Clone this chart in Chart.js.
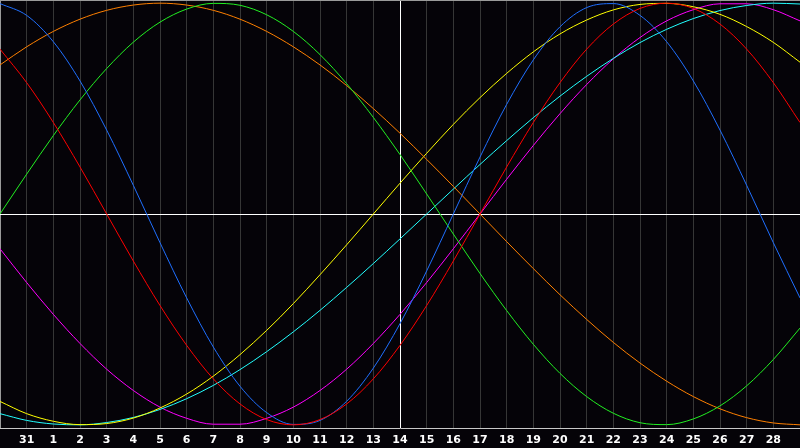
<!DOCTYPE html>
<html>
<head>
<meta charset="utf-8">
<script src="https://cdn.jsdelivr.net/npm/chart.js@4/dist/chart.umd.min.js"></script>
<style>
  html, body { margin: 0; padding: 0; background: #050308; }
  #wrap { width: 800px; height: 448px; position: relative; }
</style>
</head>
<body>
<div id="wrap"><canvas id="bioChart"></canvas></div>
<script>
// Day labels under each grid line (first and last line have none)
const dayLabels = ['', '31', '1', '2', '3', '4', '5', '6', '7', '8', '9', '10', '11', '12', '13',
    '14', '15', '16', '17', '18', '19', '20', '21', '22', '23', '24', '25', '26', '27', '28', ''];

// Series values in percent, one per grid line
const redValues = [78.2, 62.3, 43.4, 22.3, 0, -22.3, -43.4, -62.3, -78.2, -90.1, -97.5, -100, -97.5, -90.1, -78.2, -62.3,
    -43.4, -22.3, 0, 22.3, 43.4, 62.3, 78.2, 90.1, 97.5, 100, 97.5, 90.1, 78.2, 62.3, 43.4];
const blueValues = [99.8, 94.2, 81.7, 63.1, 39.8, 13.6, -13.6, -39.8, -63.1, -81.7, -94.2, -99.8, -97.9, -88.8, -73.1, -52.0,
    -27.0, 0, 27.0, 52.0, 73.1, 88.8, 97.9, 99.8, 94.2, 81.7, 63.1, 39.8, 13.6, -13.6, -39.8];
const greenValues = [0, 18.9, 37.2, 54.1, 69.0, 81.5, 91.0, 97.2, 99.9, 99.0, 94.5, 86.6, 75.6, 61.8, 45.8, 28.2,
    9.5, -9.5, -28.2, -45.8, -61.8, -75.6, -86.6, -94.5, -99.0, -99.9, -97.2, -91.0, -81.5, -69.0, -54.1];
const orangeValues = [70.7, 79.3, 86.6, 92.4, 96.6, 99.1, 100, 99.1, 96.6, 92.4, 86.6, 79.3, 70.7, 60.9, 50.0, 38.3,
    25.9, 13.1, 0, -13.1, -25.9, -38.3, -50.0, -60.9, -70.7, -79.3, -86.6, -92.4, -96.6, -99.1, -100];
const yellowValues = [-88.9, -94.7, -98.3, -99.9, -99.4, -96.8, -92.0, -85.4, -76.9, -66.7, -55.2, -42.5, -28.8, -14.6, 0, 14.6,
    28.8, 42.5, 55.2, 66.7, 76.9, 85.4, 92.0, 96.8, 99.4, 99.9, 98.3, 94.7, 88.9, 81.4, 72.0];
const cyanValues = [-94.7, -97.9, -99.6, -100, -98.9, -96.5, -92.7, -87.6, -81.3, -73.8, -65.3, -55.9, -45.7, -34.8, -23.5, -11.8,
    0, 11.8, 23.5, 34.8, 45.7, 55.9, 65.3, 73.8, 81.3, 87.6, 92.7, 96.5, 98.9, 100, 99.6];
const magentaValues = [-16.5, -32.5, -47.6, -61.4, -73.6, -83.7, -91.6, -96.9, -99.7, -99.7, -96.9, -91.6, -83.7, -73.6, -61.4, -47.6,
    -32.5, -16.5, 0, 16.5, 32.5, 47.6, 61.4, 73.6, 83.7, 91.6, 96.9, 99.7, 99.7, 96.9, 91.6];

document.addEventListener('DOMContentLoaded', function() {
    drawChart();
});

function line(values, color) {
    return {
        data: values,
        borderColor: color,
        borderWidth: 1,
        pointRadius: 0,
        cubicInterpolationMode: 'monotone',
        fill: false
    };
}

// Background and top frame line
const framePlugin = {
    id: 'frame',
    beforeDraw(chart) {
        const ctx = chart.ctx;
        ctx.save();
        ctx.fillStyle = '#050308';
        ctx.fillRect(0, 0, chart.width, chart.height);
        ctx.restore();
    },
    beforeDatasetsDraw(chart) {
        const ctx = chart.ctx;
        const area = chart.chartArea;
        ctx.save();
        ctx.strokeStyle = '#9a9a9a';
        ctx.lineWidth = 1;
        ctx.beginPath();
        ctx.moveTo(area.left, area.top + 0.5);
        ctx.lineTo(area.right, area.top + 0.5);
        ctx.stroke();
        ctx.restore();
    }
};

function drawChart() {
    const ctx = document.getElementById('bioChart').getContext('2d');
    new Chart(ctx, {
        type: 'line',
        data: {
            labels: dayLabels,
            datasets: [
                line(redValues, '#ff0000'),
                line(blueValues, '#1f6fff'),
                line(greenValues, '#22f022'),
                line(orangeValues, '#ff8000'),
                line(yellowValues, '#ffff00'),
                line(cyanValues, '#22ffff'),
                line(magentaValues, '#ff00ff')
            ]
        },
        options: {
            responsive: true,
            maintainAspectRatio: false,
            animation: false,
            layout: { padding: 0 },
            plugins: {
                legend: { display: false },
                tooltip: { enabled: false }
            },
            scales: {
                x: {
                    offset: false,
                    grid: {
                        offset: false,
                        drawTicks: false,
                        lineWidth: 1,
                        color: c => c.index === 15 ? '#ffffff' : (c.index === 0 ? '#9a9a9a' : '#363636')
                    },
                    border: { color: '#c8c8c8', width: 1 },
                    ticks: {
                        autoSkip: false,
                        maxRotation: 0,
                        padding: 6,
                        color: '#ffffff',
                        font: { family: 'DejaVu Sans', size: 11, weight: 'bold' }
                    },
                    afterFit: s => {
                        s.height = 20;
                        s.paddingLeft = 0;
                        s.paddingRight = 0;
                    }
                },
                y: {
                    min: -101.5,
                    max: 101.5,
                    afterBuildTicks: s => { s.ticks = [{ value: 0 }]; },
                    grid: { drawTicks: false, color: '#ffffff', lineWidth: 1 },
                    border: { display: false },
                    ticks: { display: false }
                }
            }
        },
        plugins: [framePlugin]
    });
}
</script>
</body>
</html>
